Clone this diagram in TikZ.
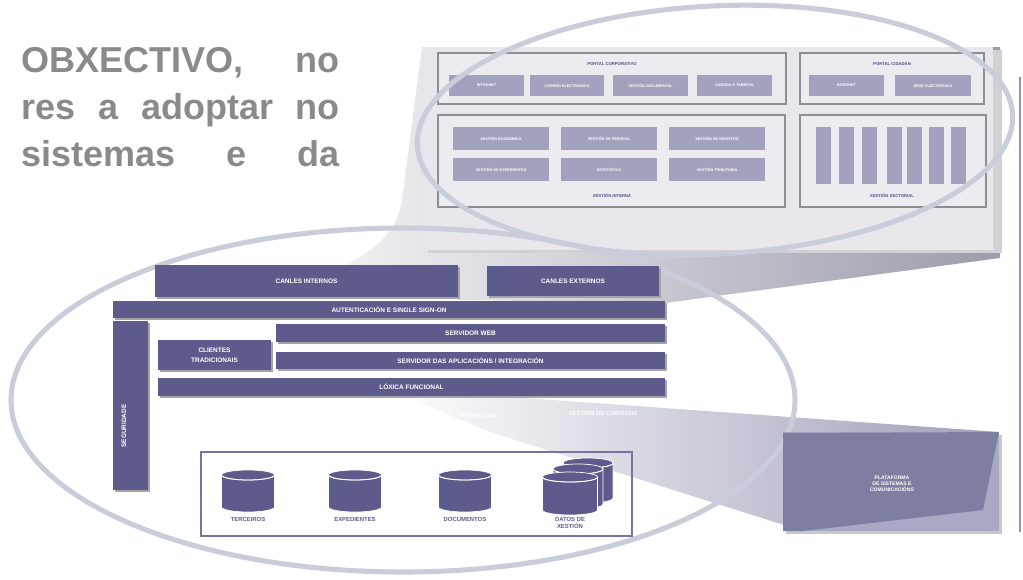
\documentclass[tikz,border=0pt]{standalone}
\usepackage{fontspec}
\setmainfont{Liberation Sans}
\definecolor{capacor}{HTML}{5D5B8C}
\definecolor{sombracor}{HTML}{A3A3A8}
\definecolor{lentecor}{HTML}{C9CDDA}
\definecolor{textocor}{HTML}{8A8A8A}
\definecolor{panelcor}{HTML}{E7E7EC}
\definecolor{marcocor}{HTML}{8E8E92}
\definecolor{marcofondo}{HTML}{ECECF0}
\definecolor{caixacor}{HTML}{A2A2BE}
\definecolor{titcor}{HTML}{4E4E80}
\definecolor{platacor}{HTML}{A9A9C6}
\definecolor{platafosca}{HTML}{7E7EA0}
\definecolor{linhacor}{HTML}{9090B2}
\definecolor{conocor}{HTML}{9C9CAC}
\definecolor{conoclaro}{HTML}{F0F0F2}
% barra: [opcions do rotulo] x1 y1 x2 y2 nome texto
\newcommand\barra[7][]{%
 \fill[sombracor] (#2+2,#3+2) rectangle (#4+2,#5+2);
 \fill[capacor] (#2,#3) rectangle (#4,#5);
 \node[rotulo,#1] (#6) at ({(#2+#4)/2},{(#3+#5)/2}) {#7};}
% cilindro: cx ytop ybot rx nome
\newcommand\cilindro[5]{%
 \filldraw[capacor, draw=white, line width=0.5pt] (#1-#4,#2) -- (#1-#4,#3)
   arc[start angle=180, end angle=0, x radius=#4, y radius=5] -- (#1+#4,#2) -- cycle;
 \filldraw[capacor, draw=white, line width=0.5pt] (#1,#2) ellipse [x radius=#4, y radius=5];
 \draw[white, line width=0.6pt] (#1-#4,#2) arc[start angle=180, end angle=0, x radius=#4, y radius=5];
 \coordinate (#5) at (#1,#3);}
\begin{document}
\begin{tikzpicture}[x=0.025cm,y=-0.025cm,
  rotulo/.style={font=\fontsize{4.6}{5.4}\selectfont\bfseries, text=white, inner sep=0pt, align=center},
  miudo/.style={font=\fontsize{2.7}{3.2}\selectfont\bfseries, text=white, inner sep=0pt},
  titulo/.style={font=\fontsize{3}{3.5}\selectfont\bfseries, text=titcor, inner sep=0pt},
  marco/.style={draw=marcocor, line width=1pt, fill=marcofondo},
  caixa/.style={fill=caixacor},
  lente/.style={draw=lentecor, line width=3.6pt},
  cabeceira/.style={font=\fontsize{25.6}{33}\selectfont\bfseries, text=textocor, inner sep=0pt, anchor=base east},
  base/.style={font=\fontsize{4.2}{4.8}\selectfont\bfseries, text=capacor, inner sep=0pt, align=center}]
\ifx\arqlw\undefined\newdimen\arqlw\fi
\arqlw=0.8bp
\useasboundingbox (0,0) rectangle (1023,579);
% cono e cuña de ampliacion
\path[left color=conoclaro, right color=conocor] (422,47) -- (1000,47) -- (1000,258) -- (665,303)
 -- (460,300) -- (345,265) .. controls (385,245) and (398,225) .. (402,200) -- cycle;
\path[left color=white, right color=platafosca!75] (385,388) -- (999,432) -- (803,531) -- (490,432) -- cycle;
% panel ampliado
\fill[sombracor!50] (428,50) rectangle (1002,253);
\fill[panelcor] (425,47) rectangle (993,250);
\draw[marco] (438,53) rectangle (786,104);
\node[titulo] (tcorp) at (612,64) {PORTAL CORPORATIVO};
\foreach \xa/\xb/\txt [count=\i] in {449/524/INTRANET, 530/604/CORREO ELECTRÓNICO,
  613/688/XESTIÓN DOCUMENTAL, 697/772/AXENDA E TAREFAS}
  {\fill[caixa] (\xa,75) rectangle (\xb,96);
   \node[miudo] (corp\i) at ({(\xa+\xb)/2},85.5) {\txt};}
\draw[marco] (800,53) rectangle (984,104);
\node[titulo] (tcid) at (892,64) {PORTAL CIDADÁN};
\foreach \xa/\xb/\txt [count=\i] in {809/884/INTERNET, 895/971/SEDE ELECTRÓNICA}
  {\fill[caixa] (\xa,75) rectangle (\xb,96);
   \node[miudo] (cid\i) at ({(\xa+\xb)/2},85.5) {\txt};}
\draw[marco] (438,115) rectangle (785,207);
\foreach \xa/\xb/\ya/\yb/\txt [count=\i] in {453/549/127/150/XESTIÓN ECONÓMICA, 561/657/127/150/XESTIÓN DE PERSOAL,
  669/765/127/150/XESTIÓN DE REXISTRO, 453/549/158/181/XESTIÓN DE EXPEDIENTES,
  561/657/158/181/ESTATÍSTICA, 669/765/158/181/XESTIÓN TRIBUTARIA}
  {\fill[caixa] (\xa,\ya) rectangle (\xb,\yb);
   \node[miudo] (xest\i) at ({(\xa+\xb)/2},{(\ya+\yb)/2}) {\txt};}
\node[titulo] (tint) at (612,196) {XESTIÓN INTERNA};
\draw[marco] (800,115) rectangle (986,207);
\foreach \xa in {816,839,862,887,907,929,951}
  \fill[caixa] (\xa,127) rectangle (\xa+15,184);
\node[titulo] (tsec) at (892,196) {XESTIÓN SECTORIAL};
% lente inferior
\draw[lente] (403,400) ellipse [x radius=392, y radius=172];
\node[rotulo, font=\fontsize{4.2}{5}\selectfont\bfseries] (workflow) at (478,415) {WORKFLOW};
\node[rotulo, font=\fontsize{4.2}{5}\selectfont\bfseries] (contidos) at (603,413) {XESTIÓN DE CONTIDOS};
% capas
\barra{155}{265}{458}{297}{cint}{CANLES INTERNOS}
\barra{487}{266}{659}{296}{cext}{CANLES EXTERNOS}
\barra{113}{301}{665}{318}{aut}{AUTENTICACIÓN E SINGLE SIGN-ON}
\barra{113}{321}{148}{490}{seg}{}
\node[rotulo, rotate=90] (segtxt) at (124,426) {SEGURIDADE};
\barra{276}{324}{665}{342}{web}{SERVIDOR WEB}
\barra{158}{340}{271}{370}{clt}{CLIENTES\\[1.5pt]TRADICIONAIS}
\barra{276}{352}{665}{369}{apl}{SERVIDOR DAS APLICACIÓNS / INTEGRACIÓN}
\barra{158}{378}{665}{396}{lox}{LÓXICA FUNCIONAL}
% datos
\draw[capacor!85, line width=1pt] (201,452) rectangle (632,536);
\cilindro{248}{475}{507}{26.5}{ter}
\cilindro{355}{475}{507}{26.5}{exp}
\cilindro{465}{475}{507}{26.5}{doc}
\cilindro{588}{463}{498}{25}{dat3}
\cilindro{578}{469}{504}{25}{dat2}
\cilindro{570}{477}{510}{27.5}{dat1}
\node[base] (lter) at (248,519) {TERCEIROS};
\node[base] (lexp) at (355,519) {EXPEDIENTES};
\node[base] (ldoc) at (465,519) {DOCUMENTOS};
\node[base] (ldat) at (570,523) {DATOS DE\\XESTIÓN};
% plataforma
\fill[sombracor!60] (786,435) rectangle (1002,534);
\fill[platacor] (783,432) rectangle (999,531);
\fill[platafosca] (783,433) -- (999,432) -- (983,510) -- (803,531) -- (783,531) -- cycle;
\node[rotulo, font=\fontsize{3.6}{4.4}\selectfont\bfseries] (plataforma) at (892,484) {PLATAFORMA\\DE SISTEMAS E\\COMUNICACIÓNS};
% lente superior e linha
\draw[lente, rotate around={3:(715,130)}] (715,130) ellipse [x radius=298, y radius=124];
\draw[linhacor, line width=1.1pt] (1020,77) -- (1020,532);
% texto
\node[cabeceira] (l1) at (340,72) {\makebox[7.95cm][s]{OBXECTIVO, no}};
\node[cabeceira] (l2) at (340,119) {\makebox[7.95cm][s]{res a adoptar no}};
\node[cabeceira] (l3) at (340,166) {\makebox[7.95cm][s]{sistemas e da}};
\end{tikzpicture}
\end{document}
